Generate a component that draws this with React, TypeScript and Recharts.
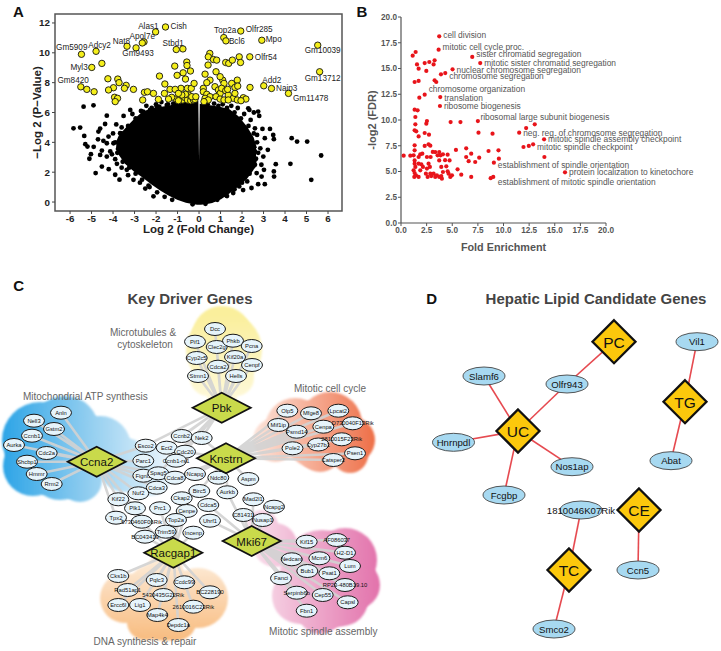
import React from 'react';
import { ComposedChart, Scatter, Area, Line, XAxis, YAxis, ReferenceArea } from 'recharts';

const FONT = '"Liberation Sans", Arial, Helvetica, sans-serif';

type Pt = { x: number; y: number };
const toPts = (arr: number[][]): Pt[] => arr.map(([x, y]) => ({ x, y }));

// ================= Panel A : volcano =================
const volcanoXTicks = [-6, -5, -4, -3, -2, -1, 0, 1, 2, 3, 4, 5, 6];
const volcanoYTicks = [0, 2, 4, 6, 8, 10, 12];

// dense core of the non-significant genes (lower / upper bound per fold change)
const volcanoCloud = [
  { x: -3.85, band: [3.6, 3.9] },
  { x: -3.7, band: [3.2, 4.4] },
  { x: -3.4, band: [2.6, 4.9] },
  { x: -3.0, band: [2.1, 5.5] },
  { x: -2.6, band: [1.7, 6.0] },
  { x: -2.2, band: [1.25, 6.2] },
  { x: -1.8, band: [0.85, 6.3] },
  { x: -1.4, band: [0.5, 6.4] },
  { x: -1.0, band: [0.22, 6.5] },
  { x: -0.6, band: [0.02, 6.6] },
  { x: -0.25, band: [-0.08, 6.7] },
  { x: -0.08, band: [-0.12, 6.7] },
  { x: -0.03, band: [-0.12, 0.9] },
  { x: 0.03, band: [-0.12, 0.9] },
  { x: 0.08, band: [-0.12, 6.5] },
  { x: 0.3, band: [-0.08, 6.45] },
  { x: 0.6, band: [0.0, 6.4] },
  { x: 1.0, band: [0.25, 6.3] },
  { x: 1.4, band: [0.65, 6.15] },
  { x: 1.8, band: [1.1, 5.7] },
  { x: 2.2, band: [1.6, 5.0] },
  { x: 2.5, band: [2.2, 4.3] },
  { x: 2.65, band: [2.8, 3.6] },
];

const volcanoBlack = toPts([
  [-5.37, 6.39], [-4.91, 6.48], [-5.84, 4.94], [-5.53, 4.99], [-5.34, 4.43], [-5.29, 3.88], [-5.19, 3.72],
  [-5.03, 3.21], [-4.81, 1.94], [-4.6, 3.16], [-4.52, 3.45], [-4.68, 4.72], [-4.6, 4.92], [-4.37, 5.23],
  [-4.29, 5.79], [-4.21, 4.39], [-4.29, 3.94], [-4.13, 3.39], [-3.9, 2.87], [-3.75, 3.61], [-3.51, 5.77],
  [-3.2, 6.17], [-3.9, 1.83], [-3.36, 2.16], [-2.89, 2.49], [-3.82, 2.56], [-3.44, 3.27], [-3.98, 3.94],
  [-2.12, 0.38], [-3.05, 1.49], [-4.29, 3.05], [-4.52, 2.38], [-3.67, 4.61], [-2.89, 5.06], [-2.58, 5.72],
  [-2.28, 6.17], [-1.97, 6.39], [-1.5, 6.5], [-4.0, 4.6], [-3.85, 5.2], [-3.6, 5.0], [-4.45, 4.1],
  [-4.05, 3.2], [-3.6, 2.3], [-3.3, 1.8], [-2.75, 1.3], [-2.5, 0.9], [-2.35, 1.1], [-3.1, 5.9],
  [-2.7, 6.1], [-2.45, 6.45], [-2.0, 6.55], [-1.75, 6.7], [-1.2, 6.6], [-0.9, 6.65], [-4.7, 4.2],
  [-4.9, 3.7], [-5.1, 2.9], [-3.1, 2.7], [-3.7, 1.5], [-4.2, 2.2],
  [-3.9, 4.0], [-3.8, 3.3], [-3.55, 2.7], [-3.25, 2.3], [-2.95, 1.9], [-2.65, 1.5], [-2.3, 1.0],
  [-1.95, 0.65], [-1.6, 0.35], [-1.25, 0.15], [-3.6, 4.6], [-3.3, 5.1], [-2.95, 5.6], [-2.6, 6.05],
  [-2.2, 6.3], [-1.85, 6.4], [-1.45, 6.55], [-1.1, 6.6], [-0.7, 6.7], [-0.4, 6.75],
  [3.02, 2.16], [3.06, 1.2], [2.99, 3.05], [3.06, 4.28], [3.45, 4.5], [3.48, 4.21], [3.57, 2.54],
  [3.48, 2.05], [3.49, 1.71], [4.31, 4.28], [4.56, 4.05], [5.03, 4.05], [4.25, 2.56], [5.68, 3.12],
  [5.22, 1.49], [2.6, 4.94], [2.8, 5.77], [2.75, 6.06], [2.29, 6.28], [2.6, 3.39], [2.44, 0.94],
  [2.68, 1.94], [2.21, 3.94], [2.34, 6.17], [2.06, 5.06], [2.52, 2.38], [2.91, 1.71], [2.24, 1.38],
  [1.87, 1.05], [1.59, 0.6], [2.7, 4.5], [2.85, 3.6], [2.65, 2.9], [2.9, 2.5], [2.4, 5.5], [2.1, 5.9],
  [1.8, 6.3], [1.5, 6.45], [1.1, 6.55], [0.7, 6.6], [2.95, 4.9], [3.2, 3.5], [2.75, 1.2], [2.05, 0.8],
  [1.3, 0.4], [3.3, 4.9], [2.55, 6.0], [-0.3, -0.15], [0.3, -0.12],
  [0.4, 6.55], [0.9, 6.45], [1.3, 6.3], [1.65, 6.0], [1.95, 5.6], [2.3, 5.1], [2.55, 4.6], [2.7, 4.0],
  [2.75, 3.3], [2.6, 2.5], [2.35, 1.9], [2.0, 1.3], [1.65, 0.85], [1.25, 0.45], [0.85, 0.15],
]);

const volcanoYellow = toPts([
  [-4.52, 9.29], [-4.24, 8.26], [-3.78, 8.24], [-3.72, 8.0], [-3.39, 7.82], [-3.47, 7.62], [-3.98, 7.66],
  [-4.21, 7.51], [-3.93, 7.02], [-3.79, 6.95], [-3.9, 6.73], [-3.05, 7.55], [-2.54, 7.35], [-2.4, 7.39],
  [-2.12, 7.28], [-1.89, 6.88], [-2.62, 6.84], [-4.88, 7.39], [-5.22, 7.55], [-1.59, 7.91], [-1.84, 8.44],
  [-1.13, 9.11], [-1.02, 8.49], [-0.74, 8.66], [-0.57, 9.38], [-0.56, 9.15], [-0.4, 8.78], [-0.63, 8.24],
  [-0.84, 7.62], [-0.54, 7.62], [-0.36, 7.62], [-0.23, 7.95], [-1.35, 7.55], [-1.11, 7.55], [-1.07, 6.9],
  [-0.88, 6.99], [-0.76, 6.84], [-0.68, 7.02], [-0.54, 6.84], [-0.39, 6.79], [-0.26, 6.84], [-0.19, 6.88],
  [-0.48, 7.17], [-0.63, 7.22], [-0.8, 7.17], [-0.96, 7.28], [-1.27, 7.02], [-1.42, 6.9], [-0.34, 7.06],
  [-0.15, 7.06], [-0.96, 6.79], [-1.61, 7.28],
  [0.5, 9.96], [0.43, 9.73], [0.67, 9.55], [0.82, 9.51], [0.42, 9.18], [0.79, 8.73], [0.28, 8.57],
  [0.51, 8.17], [0.36, 8.0], [0.2, 7.62], [0.2, 7.39], [0.36, 7.22], [0.51, 7.06], [0.28, 6.95],
  [0.43, 6.84], [0.23, 6.73], [0.74, 7.73], [0.9, 7.51], [0.98, 7.28], [0.79, 7.06], [0.98, 6.9],
  [1.16, 6.84], [1.1, 8.17], [1.16, 7.95], [1.05, 7.62], [1.24, 7.46], [1.36, 7.17], [1.52, 7.95],
  [1.67, 7.68], [1.78, 8.17], [1.8, 7.77], [1.59, 6.95], [1.78, 6.84], [2.06, 6.99], [2.18, 6.9],
  [1.33, 7.55], [1.36, 6.84], [1.24, 9.35], [1.38, 9.29], [1.55, 9.51], [1.87, 9.73], [1.93, 9.35],
  [0.98, 8.4], [2.37, 7.68], [1.95, 6.79], [1.67, 7.28],
]);

const volcanoLabeled = [
  { gene: 'Alas1', x: -2.02, y: 11.4 },
  { gene: 'Cish', x: -1.56, y: 11.73 },
  { gene: 'Apol7e', x: -2.64, y: 10.66 },
  { gene: 'Nat8', x: -3.35, y: 10.44 },
  { gene: 'Gm9493', x: -2.93, y: 10.33 },
  { gene: 'Adcy2', x: -4.79, y: 10.1 },
  { gene: 'Gm5909', x: -5.47, y: 9.9 },
  { gene: 'Myl3', x: -4.99, y: 9.02 },
  { gene: 'Gm8420', x: -5.5, y: 7.72 },
  { gene: 'Stbd1', x: -1.06, y: 10.22 },
  { gene: 'Top2a', x: 1.15, y: 11.02 },
  { gene: 'Bcl6', x: 1.25, y: 10.8 },
  { gene: 'Olfr285', x: 1.94, y: 11.46 },
  { gene: 'Mpo', x: 2.92, y: 10.84 },
  { gene: 'Olfr54', x: 2.36, y: 9.73 },
  { gene: 'Gm10039', x: 5.52, y: 10.51 },
  { gene: 'Gm13712', x: 5.61, y: 8.73 },
  { gene: 'Add2', x: 3.01, y: 7.79 },
  { gene: 'Naip3', x: 3.37, y: 7.61 },
  { gene: 'Gm11478', x: 4.16, y: 7.28 },
];
const volcanoExtraYellow = toPts([[-2.56, 10.73], [-0.75, 10.26]]);

const VOLCANO_LABEL_POS: Record<string, [number, number, 'start' | 'middle' | 'end']> = {
  Alas1: [3, -5, 'end'], Cish: [5, 0, 'start'], Apol7e: [0, -6.5, 'middle'], Nat8: [3, -5, 'end'],
  Gm9493: [2, 6, 'middle'], Adcy2: [3.5, -6, 'middle'], Gm5909: [6, -6.5, 'end'], Myl3: [-4, 0, 'end'],
  Gm8420: [8, -6, 'end'], Stbd1: [-3, -6, 'middle'], Top2a: [1.5, -6.7, 'middle'], Bcl6: [3, 1, 'start'],
  Olfr285: [5, -2, 'start'], Mpo: [4, -1, 'start'], Olfr54: [5, 0.5, 'start'], Gm10039: [5, 5.7, 'middle'],
  Gm13712: [3, 6.6, 'middle'], Add2: [8, -5.7, 'middle'], Naip3: [4.5, 0, 'start'], Gm11478: [4.5, 5, 'start'],
};

// ================= Panel B : GO enrichment =================
const goTicks = [0, 2.5, 5, 7.5, 10, 12.5, 15, 17.5, 20];
const goPoints = toPts([
  [1.14, 16.25], [1.43, 16.6], [1.56, 15.4], [1.72, 14.98], [1.33, 13.69], [1.72, 13.79], [2.31, 15.53],
  [2.76, 15.63], [3.18, 15.4], [3.28, 15.79], [2.47, 14.76], [3.28, 13.85], [3.44, 13.69], [3.9, 14.43],
  [1.79, 12.17], [1.33, 11.0], [1.62, 10.94], [1.4, 10.29], [1.4, 9.58], [2.53, 9.9], [2.47, 9.64],
  [2.31, 8.74], [2.73, 8.58], [1.33, 9.0], [1.49, 8.9], [1.72, 8.41], [4.84, 9.8], [5.8, 9.8],
  [1.33, 7.54], [1.33, 7.06], [1.23, 6.57], [1.33, 6.08], [1.33, 5.76], [1.4, 5.44], [1.23, 5.11],
  [1.33, 4.85], [1.46, 4.63], [1.3, 4.47], [1.72, 4.47], [1.72, 5.76], [1.98, 5.7], [1.88, 5.11],
  [0.26, 6.54], [0.91, 6.54], [1.72, 6.41], [1.88, 6.67], [2.08, 6.73], [2.31, 7.48], [2.69, 7.64],
  [2.86, 7.51], [3.34, 6.89], [3.73, 6.89], [3.86, 6.57], [4.09, 6.67], [4.55, 6.63], [4.74, 6.08],
  [5.36, 7.09], [6.36, 7.25], [6.36, 6.41], [6.85, 6.73], [7.24, 5.92], [7.63, 6.34], [8.54, 6.99],
  [9.51, 7.06], [9.55, 6.25], [11.95, 7.38], [12.47, 7.48], [12.21, 9.22], [13.05, 9.58], [13.99, 6.41],
  [7.56, 8.77], [8.93, 8.67], [2.14, 5.44], [2.53, 5.28], [2.43, 4.79], [2.86, 4.79], [2.95, 4.56],
  [3.18, 4.79], [2.6, 4.47], [3.34, 4.47], [3.5, 4.63], [3.73, 4.47], [3.93, 5.44], [4.09, 4.95],
  [4.42, 5.5], [4.55, 5.02], [4.64, 4.79], [4.81, 4.47], [4.97, 4.63], [5.52, 5.21], [5.88, 4.69],
  [3.93, 4.56], [3.99, 4.3], [6.85, 4.47], [2.53, 6.41], [3.57, 6.57], [2.89, 6.41], [3.73, 6.08],
  [2.69, 5.76], [2.82, 5.44], [4.3, 6.1], [3.1, 6.9], [6.6, 6.0], [8.75, 4.35],
]);

const goLabeled = [
  { term: 'cell division', x: 3.73, y: 18.12 },
  { term: 'mitotic cell cycle proc.', x: 3.67, y: 16.83 },
  { term: 'sister chromatid segregation', x: 6.95, y: 16.12 },
  { term: 'mitotic sister chromatid segregation', x: 7.73, y: 15.53 },
  { term: 'nuclear chromosome segregation', x: 5.03, y: 14.92 },
  { term: 'chromosome segregation', x: 4.32, y: 14.56 },
  { term: 'chromosome organization', x: 2.31, y: 12.46 },
  { term: 'translation', x: 3.83, y: 12.23 },
  { term: 'ribosome biogenesis', x: 3.8, y: 11.36 },
  { term: 'ribosomal large subunit biogenesis', x: 7.5, y: 9.9 },
  { term: 'neg. reg. of chromosome segregation', x: 11.53, y: 8.77 },
  { term: 'mitotic spindle assembly checkpoint', x: 13.96, y: 8.12 },
  { term: 'mitotic spindle checkpoint', x: 12.89, y: 7.64 },
  { term: 'establishment of spindle orientation', x: 9.06, y: 5.86 },
  { term: 'protein localization to kinetochore', x: 16.0, y: 4.92 },
  { term: 'establishment of mitotic spindle orientation', x: 9.0, y: 4.47 },
];
const GO_LABEL_POS: Record<string, [number, number]> = {
  'cell division': [4, -1], 'mitotic cell cycle proc.': [4, -3], 'sister chromatid segregation': [4, -2.5],
  'mitotic sister chromatid segregation': [4, 0], 'nuclear chromosome segregation': [4, 0.5],
  'chromosome segregation': [4, 3], 'chromosome organization': [4, -5.5], translation: [4, 0.5],
  'ribosome biogenesis': [4, 0], 'ribosomal large subunit biogenesis': [2.5, -4.5],
  'neg. reg. of chromosome segregation': [4, 0], 'mitotic spindle assembly checkpoint': [4, 0],
  'mitotic spindle checkpoint': [4, 2.5], 'establishment of spindle orientation': [4, 2.5],
  'protein localization to kinetochore': [4, 0], 'establishment of mitotic spindle orientation': [4.5, 5],
};

// ================= Panel C : key driver network (layout units) =================
type NodeRow = [string, number, number];
const cMicrotubule: NodeRow[] = [
  ['Dcc', 215, 329], ['Pif1', 195, 341.7], ['Clec2g', 216.7, 347], ['Phkb', 233, 340.7], ['Pcna', 251.7, 346],
  ['Cyp2c5', 196.7, 358], ['Kif20a', 235, 357], ['Cdca2', 218, 366.7], ['Cenpf', 252, 365],
  ['Stmn1', 198, 376], ['Hells', 236, 376],
];
const cMitochondrial: NodeRow[] = [
  ['Anln', 61, 412.7], ['Nell3', 34, 420.7], ['Gstm2', 54, 429], ['Ccnb1', 32, 435.7], ['Aurka', 14, 445],
  ['Cdc2a', 46.7, 453], ['Shcbp1', 27, 461.7], ['Hmmr', 36.7, 474], ['Rrm2', 51.7, 484],
];
const cCentral: NodeRow[] = [
  ['Ccnb2', 181.7, 436], ['Nek2', 201.7, 438], ['Esco2', 145.7, 445.7], ['Ect2', 166.7, 447.7],
  ['Cdc20', 185, 451.7], ['Parc1', 143.3, 460.7], ['Ccnb1-rs1', 176, 460.7], ['Fignl1', 143.3, 475.7],
  ['Spag5', 158.3, 473.3], ['Cdca8', 175, 477.7], ['Ncapg', 195, 474], ['Ndc80', 218.3, 477.7],
  ['Aspm', 248.3, 479], ['Cdca3', 156.7, 487.7], ['Nuf2', 138.3, 493.3], ['Birc5', 199.3, 491],
  ['Aurkb', 227.3, 492.3], ['Kif22', 118.3, 499.3], ['Ckap2', 181.7, 498.3], ['Cdca5', 208.3, 505],
  ['Mad2l1', 253.3, 499.3], ['Plk1', 135, 508.3], ['Prc1', 160, 508.3], ['Cenpe', 186.7, 511],
  ['Ncapg2', 274, 506.7], ['C81431', 243.3, 515], ['Nusap1', 262.7, 520], ['Tpx2', 116, 517.7],
  ['5730460F06Rik', 141.7, 521.7], ['Top2a', 176, 520], ['Uhrf1', 210, 520.7], ['Trim59', 165.7, 531.7],
  ['Incenp', 193.3, 532.7], ['BC043419', 145, 536.7],
];
const cCellCycle: NodeRow[] = [
  ['Olp5', 287.3, 410.7], ['Mfge8', 311, 413.3], ['Lpcat2', 338.3, 410.7], ['Mif1ip', 278.3, 425],
  ['Psmd14', 296.7, 431.7], ['Cenpa', 323.3, 426.7], ['D730040F13Rik', 352.7, 423.3], ['Pole2', 292.5, 448.3],
  ['Cyp27b1', 318.3, 444.5], ['2810015F23Rik', 341.7, 439.3], ['Psen1', 355, 453.3], ['Catsper2', 333.3, 460],
];
const cSpindle: NodeRow[] = [
  ['Kif15', 306.7, 541.7], ['AF086037', 336.7, 540], ['H2-D1', 345, 552.7], ['Nedcam', 291.7, 559.3],
  ['Mcm6', 319.3, 558.3], ['Lum', 350, 566], ['Bub1', 307.3, 571], ['Psat1', 329.3, 573.3],
  ['Fanci', 281, 578.3], ['RP23-480B19.10', 345, 585], ['Serpinb6b', 296.7, 592.7], ['Cep55', 322.7, 595],
  ['Capsl', 347.7, 602.3], ['Fbn1', 306.7, 610.7],
];
const cDnaRepair: NodeRow[] = [
  ['Cks1b', 118.3, 576], ['Pqlc3', 156.7, 580], ['Ccdc99', 184.3, 582.3], ['Rad51ap1', 127.7, 590],
  ['5430435G22Rik', 163.3, 595], ['BC228190', 210, 592.3], ['Ercc6l', 118.3, 605], ['Lig1', 140, 605],
  ['2610016C23Rik', 193.3, 606.7], ['Map4k4', 157.3, 615], ['Depdc1a', 178.3, 625],
];
const cHubs: NodeRow[] = [
  ['Pbk', 221.7, 407.7], ['Ccna2', 96.7, 461.7], ['Knstrn', 226, 458.3], ['Racgap1', 173.3, 552.7],
  ['Mki67', 251.7, 541],
];
const cHubTargets: Record<string, string[]> = {
  Pbk: [...cMicrotubule.map((n) => n[0]), 'Ccnb2', 'Nek2', 'Ect2', 'Cdc20', 'Esco2', 'Spag5', 'Ccnb1-rs1'],
  Ccna2: [...cMitochondrial.map((n) => n[0]), 'Esco2', 'Parc1', 'Fignl1', 'Nuf2', 'Kif22', 'Plk1', 'Tpx2', 'Spag5', 'Cdca3'],
  Knstrn: [...cCellCycle.map((n) => n[0]), 'Cdc20', 'Ncapg', 'Ndc80', 'Aspm', 'Birc5', 'Aurkb', 'Cdca8', 'Nek2'],
  Mki67: [...cSpindle.map((n) => n[0]), 'Mad2l1', 'Ncapg2', 'C81431', 'Nusap1', 'Cdca5', 'Uhrf1', 'Aurkb'],
  Racgap1: [...cDnaRepair.map((n) => n[0]), 'Top2a', 'Trim59', 'Incenp', 'BC043419', '5730460F06Rik', 'Prc1', 'Ckap2', 'Cenpe'],
};

// background cluster shading (circle centre + radius, layout units)
const blobMicrotubule = [[224, 350, 38], [208, 378, 18], [236, 378, 18], [222, 396, 15], [222, 336, 30]];
const blobMitochondrial = [[40, 440, 38], [65, 430, 34], [100, 447, 31], [60, 470, 30], [33, 466, 30], [125, 465, 27], [150, 472, 24], [80, 480, 22], [55, 448, 40]];
const blobCellCycle = [[295, 428, 30], [330, 424, 32], [352, 440, 23], [320, 450, 22], [275, 440, 22], [350, 455, 18], [318, 435, 34]];
const blobSpindle = [[322, 572, 42], [345, 560, 32], [300, 596, 28], [342, 600, 26], [320, 612, 22], [275, 545, 22], [262, 526, 16], [356, 585, 24], [325, 585, 44]];
const blobDnaRepair = [[160, 600, 38], [125, 598, 25], [198, 598, 30], [178, 622, 18], [145, 622, 18], [165, 570, 18], [165, 605, 36]];

// ================= Panel D : hepatic lipid network =================
const dTraits: NodeRow[] = [
  ['PC', 614, 341.7], ['TG', 685, 401.7], ['UC', 518, 431], ['CE', 639, 510], ['TC', 569, 570],
];
const dGenes: NodeRow[] = [
  ['Vil1', 697, 341.7], ['Slamf6', 484, 376], ['Olfr943', 567, 384], ['Hnrnpdl', 453.5, 442.3],
  ['Nos1ap', 572, 466.7], ['Abat', 671, 460.7], ['Fcgbp', 504, 495], ['1810046K07Rik', 581, 510],
  ['Ccn5', 638, 570], ['Smco2', 554, 629],
];
const dEdges: [string, string][] = [
  ['PC', 'Olfr943'], ['Olfr943', 'UC'], ['UC', 'Slamf6'], ['UC', 'Hnrnpdl'], ['UC', 'Nos1ap'], ['UC', 'Fcgbp'],
  ['Vil1', 'TG'], ['TG', 'Abat'], ['CE', 'Ccn5'], ['1810046K07Rik', 'TC'], ['TC', 'Smco2'],
];

// ---------- helpers ----------
const rows = (r: NodeRow[]) => r.map(([name, x, y]) => ({ name, x, y }));
const allCNodes = [...cMicrotubule, ...cMitochondrial, ...cCentral, ...cCellCycle, ...cSpindle, ...cDnaRepair];
const cLookup: Record<string, Pt> = {};
[...allCNodes, ...cHubs].forEach(([n, x, y]) => (cLookup[n] = { x, y }));
const dLookup: Record<string, Pt> = {};
[...dTraits, ...dGenes].forEach(([n, x, y]) => (dLookup[n] = { x, y }));
const starData = (hub: string) => {
  const out: Pt[] = [];
  cHubTargets[hub].forEach((t) => {
    out.push(cLookup[hub]);
    out.push(cLookup[t]);
  });
  return out;
};
const blobPts = (arr: number[][]) => arr.map(([x, y, r]) => ({ x, y, r }));

// ---------- shapes ----------
const BlackDot = (p: any) => <circle cx={p.cx} cy={p.cy} r={2.4} fill="#000" />;
const YellowDot = (p: any) => <circle cx={p.cx} cy={p.cy} r={3.2} fill="#f4ee1a" stroke="#111" strokeWidth={0.9} />;
const LabeledYellow = (p: any) => {
  const pos = VOLCANO_LABEL_POS[p.payload.gene];
  return (
    <g>
      <circle cx={p.cx} cy={p.cy} r={3.2} fill="#f4ee1a" stroke="#111" strokeWidth={0.9} />
      <text x={p.cx + pos[0]} y={p.cy + pos[1]} textAnchor={pos[2]} dominantBaseline="central" fontSize={8.2} fontFamily={FONT} fill="#222">
        {p.payload.gene}
      </text>
    </g>
  );
};
const RedDot = (p: any) => <circle cx={p.cx} cy={p.cy} r={2.1} fill="#e8141a" />;
const LabeledRed = (p: any) => {
  const pos = GO_LABEL_POS[p.payload.term];
  return (
    <g>
      <circle cx={p.cx} cy={p.cy} r={2.1} fill="#e8141a" />
      <text x={p.cx + pos[0]} y={p.cy + pos[1]} dominantBaseline="central" fontSize={8.4} fontFamily={FONT} fill="#555">
        {p.payload.term}
      </text>
    </g>
  );
};
const makeBlob = (gid: string) => (p: any) => (
  <circle cx={p.cx} cy={p.cy} r={p.payload.r} fill={`url(#${gid})`} filter="url(#softBlob)" />
);
const CNode = (p: any) => (
  <g>
    <ellipse cx={p.cx} cy={p.cy} rx={10.5} ry={6.5} fill="#e6f4fb" stroke="#1a1a1a" strokeWidth={1} />
    <text x={p.cx} y={p.cy} textAnchor="middle" dominantBaseline="central" fontSize={5.8} fontFamily={FONT} fill="#111">
      {p.payload.name}
    </text>
  </g>
);
const CHub = (p: any) => (
  <g>
    <polygon
      points={`${p.cx},${p.cy - 15} ${p.cx + 29},${p.cy} ${p.cx},${p.cy + 15} ${p.cx - 29},${p.cy}`}
      fill="#c9da4b"
      stroke="#111"
      strokeWidth={1.8}
    />
    <text x={p.cx} y={p.cy + 0.5} textAnchor="middle" dominantBaseline="central" fontSize={11.5} fontFamily={FONT} fill="#111">
      {p.payload.name}
    </text>
  </g>
);
const DGene = (p: any) => (
  <g>
    <ellipse cx={p.cx} cy={p.cy} rx={21} ry={9} fill="#a7d9f1" stroke="#444" strokeWidth={0.9} />
    <text x={p.cx} y={p.cy} textAnchor="middle" dominantBaseline="central" fontSize={9.6} fontFamily={FONT} fill="#111">
      {p.payload.name}
    </text>
  </g>
);
const DTrait = (p: any) => (
  <g>
    <polygon
      points={`${p.cx},${p.cy - 21.5} ${p.cx + 21.5},${p.cy} ${p.cx},${p.cy + 21.5} ${p.cx - 21.5},${p.cy}`}
      fill="#fcc80c"
      stroke="#111"
      strokeWidth={2.3}
    />
    <text x={p.cx} y={p.cy + 0.5} textAnchor="middle" dominantBaseline="central" fontSize={15.5} fontFamily={FONT} fill="#111">
      {p.payload.name}
    </text>
  </g>
);

const Txt = ({ x, y, size, bold, color, children }: any) => (
  <div
    style={{
      position: 'absolute',
      left: x,
      top: y,
      transform: 'translate(-50%, -50%)',
      whiteSpace: 'nowrap',
      fontFamily: FONT,
      fontSize: size,
      fontWeight: bold ? 700 : 400,
      color,
      lineHeight: 1,
    }}
  >
    {children}
  </div>
);

const axisTickA = { fontSize: 9.8, fontWeight: 700, fill: '#222', fontFamily: FONT };
const axisTickB = { fontSize: 8.2, fontWeight: 700, fill: '#555', fontFamily: FONT };

export default function App() {
  return (
    <div style={{ position: 'absolute', left: 0, top: 0, width: 721, height: 651, background: '#fff', overflow: 'hidden' }}>
      {/* Panel A */}
      <div style={{ position: 'absolute', left: 0, top: 0 }}>
        <ComposedChart width={360} height={260} data={volcanoCloud} margin={{ top: 14, right: 18, bottom: 0, left: 0 }}>
          <XAxis
            type="number"
            dataKey="x"
            domain={[-6.7, 6.65]}
            ticks={volcanoXTicks}
            interval={0}
            height={49}
            axisLine={false}
            tickLine={{ stroke: '#444' }}
            tickSize={3}
            tickMargin={1}
            tick={axisTickA}
            label={{ value: 'Log 2 (Fold Change)', position: 'insideBottom', offset: 27, style: { fontSize: 11.5, fontWeight: 700, fill: '#222', fontFamily: FONT } }}
          />
          <YAxis
            type="number"
            domain={[-0.6, 12.6]}
            ticks={volcanoYTicks}
            interval={0}
            width={55}
            axisLine={false}
            tickLine={{ stroke: '#444' }}
            tickSize={3}
            tickMargin={2}
            tick={axisTickA}
            label={{ value: '−Log 2 (P−Value)', angle: -90, position: 'insideLeft', offset: 37, style: { textAnchor: 'middle', fontSize: 11.5, fontWeight: 700, fill: '#222', fontFamily: FONT } }}
          />
          <Area dataKey="band" type="linear" fill="#000" fillOpacity={1} stroke="#000" strokeWidth={2} isAnimationActive={false} dot={false} activeDot={false} />
          <Scatter data={volcanoBlack} dataKey="y" shape={BlackDot} isAnimationActive={false} />
          <Scatter data={volcanoYellow} dataKey="y" shape={YellowDot} isAnimationActive={false} />
          <Scatter data={volcanoExtraYellow} dataKey="y" shape={YellowDot} isAnimationActive={false} />
          <Scatter data={volcanoLabeled} dataKey="y" shape={LabeledYellow} isAnimationActive={false} />
          <ReferenceArea x1={-6.7} x2={6.65} y1={-0.6} y2={12.6} fill="none" stroke="#555" strokeWidth={1.5} />
        </ComposedChart>
      </div>

      {/* Panel B */}
      <div style={{ position: 'absolute', left: 360, top: 0 }}>
        <ComposedChart width={361} height={260} margin={{ top: 17, right: 115, bottom: 0, left: 0 }}>
          <XAxis
            type="number"
            dataKey="x"
            domain={[0, 20]}
            ticks={goTicks}
            interval={0}
            height={37}
            axisLine={{ stroke: '#555', strokeWidth: 1.2 }}
            tickLine={{ stroke: '#555' }}
            tickSize={3}
            tickMargin={1}
            tick={axisTickB}
            tickFormatter={(v: number) => v.toFixed(1)}
            label={{ value: 'Fold Enrichment', position: 'insideBottom', offset: 9, style: { fontSize: 10.8, fontWeight: 700, fill: '#555', fontFamily: FONT } }}
          />
          <YAxis
            type="number"
            domain={[0, 20]}
            ticks={goTicks}
            interval={0}
            width={41}
            axisLine={{ stroke: '#555', strokeWidth: 1.2 }}
            tickLine={{ stroke: '#555' }}
            tickSize={3}
            tickMargin={1}
            tick={axisTickB}
            tickFormatter={(v: number) => v.toFixed(1)}
            label={{ value: '-log2 (FDR)', angle: -90, position: 'insideLeft', offset: 12, style: { textAnchor: 'middle', fontSize: 11, fontWeight: 700, fill: '#555', fontFamily: FONT } }}
          />
          <Scatter data={goPoints} dataKey="y" shape={RedDot} isAnimationActive={false} />
          <Scatter data={goLabeled} dataKey="y" shape={LabeledRed} isAnimationActive={false} />
        </ComposedChart>
      </div>

      {/* Panels C & D: background shading */}
      <div style={{ position: 'absolute', left: 0, top: 270 }}>
        <ComposedChart width={721} height={381} margin={{ top: 0, right: 0, bottom: 0, left: 0 }}>
          <defs>
            <filter id="softBlob" x="-20%" y="-20%" width="140%" height="140%">
              <feGaussianBlur stdDeviation="1.2" />
            </filter>
            <linearGradient id="gYellow" gradientUnits="userSpaceOnUse" x1="0" y1="45" x2="0" y2="150">
              <stop offset="0" stopColor="#faef9c" />
              <stop offset="1" stopColor="#fffbe8" />
            </linearGradient>
            <linearGradient id="gBlue" gradientUnits="userSpaceOnUse" x1="0" y1="0" x2="178" y2="0">
              <stop offset="0" stopColor="#2aa3e6" />
              <stop offset="0.5" stopColor="#92cef0" />
              <stop offset="1" stopColor="#f3f9fd" />
            </linearGradient>
            <linearGradient id="gSalmon" gradientUnits="userSpaceOnUse" x1="250" y1="0" x2="374" y2="0">
              <stop offset="0" stopColor="#fde8df" />
              <stop offset="1" stopColor="#ee7049" />
            </linearGradient>
            <linearGradient id="gPink" gradientUnits="userSpaceOnUse" x1="238" y1="0" x2="380" y2="0">
              <stop offset="0" stopColor="#fbeaf2" />
              <stop offset="1" stopColor="#e272ab" />
            </linearGradient>
            <linearGradient id="gOrange" gradientUnits="userSpaceOnUse" x1="0" y1="285" x2="0" y2="370">
              <stop offset="0" stopColor="#fdeedd" />
              <stop offset="1" stopColor="#f8bc80" />
            </linearGradient>
          </defs>
          <XAxis type="number" dataKey="x" domain={[0, 721]} hide />
          <YAxis type="number" domain={[270, 651]} reversed hide />
          <Scatter data={blobPts(blobMicrotubule)} dataKey="y" shape={makeBlob('gYellow')} isAnimationActive={false} />
          <Scatter data={blobPts(blobMitochondrial)} dataKey="y" shape={makeBlob('gBlue')} isAnimationActive={false} />
          <Scatter data={blobPts(blobCellCycle)} dataKey="y" shape={makeBlob('gSalmon')} isAnimationActive={false} />
          <Scatter data={blobPts(blobSpindle)} dataKey="y" shape={makeBlob('gPink')} isAnimationActive={false} />
          <Scatter data={blobPts(blobDnaRepair)} dataKey="y" shape={makeBlob('gOrange')} isAnimationActive={false} />
        </ComposedChart>
      </div>

      {/* Panels C & D: networks */}
      <div style={{ position: 'absolute', left: 0, top: 270 }}>
        <ComposedChart width={721} height={381} margin={{ top: 0, right: 0, bottom: 0, left: 0 }}>
          <XAxis type="number" dataKey="x" domain={[0, 721]} hide />
          <YAxis type="number" domain={[270, 651]} reversed hide />
          {cHubs.map(([hub]) => (
            <Line
              key={hub}
              data={starData(hub)}
              dataKey="y"
              type="linear"
              stroke="#d2d2d2"
              strokeWidth={2.6}
              strokeOpacity={0.9}
              dot={false}
              activeDot={false}
              isAnimationActive={false}
            />
          ))}
          {dEdges.map(([a, b]) => (
            <Line
              key={a + b}
              data={[dLookup[a], dLookup[b]]}
              dataKey="y"
              type="linear"
              stroke="#e64a50"
              strokeWidth={1.6}
              dot={false}
              activeDot={false}
              isAnimationActive={false}
            />
          ))}
          <Scatter data={rows(allCNodes)} dataKey="y" shape={CNode} isAnimationActive={false} />
          <Scatter data={rows(cHubs)} dataKey="y" shape={CHub} isAnimationActive={false} />
          <Scatter data={rows(dGenes)} dataKey="y" shape={DGene} isAnimationActive={false} />
          <Scatter data={rows(dTraits)} dataKey="y" shape={DTrait} isAnimationActive={false} />
        </ComposedChart>
      </div>

      {/* text */}
      <Txt x={18.5} y={10.5} size={15} bold color="#111">A</Txt>
      <Txt x={362} y={10.5} size={15} bold color="#111">B</Txt>
      <Txt x={18.7} y={285} size={15} bold color="#111">C</Txt>
      <Txt x={431.7} y={298} size={15} bold color="#111">D</Txt>
      <Txt x={190} y={298} size={15} bold color="#444">Key Driver Genes</Txt>
      <Txt x={596} y={298} size={15} bold color="#444">Hepatic Lipid Candidate Genes</Txt>
      <Txt x={143} y={332.7} size={10} color="#666">Microtubules &amp;</Txt>
      <Txt x={145} y={345} size={10} color="#666">cytoskeleton</Txt>
      <Txt x={85.3} y={396.7} size={10} color="#666">Mitochondrial ATP synthesis</Txt>
      <Txt x={330} y={389} size={10} color="#666">Mitotic cell cycle</Txt>
      <Txt x={145} y={641.7} size={10} color="#666">DNA synthesis &amp; repair</Txt>
      <Txt x={323.3} y={631.7} size={10} color="#666">Mitotic spindle assembly</Txt>
    </div>
  );
}
